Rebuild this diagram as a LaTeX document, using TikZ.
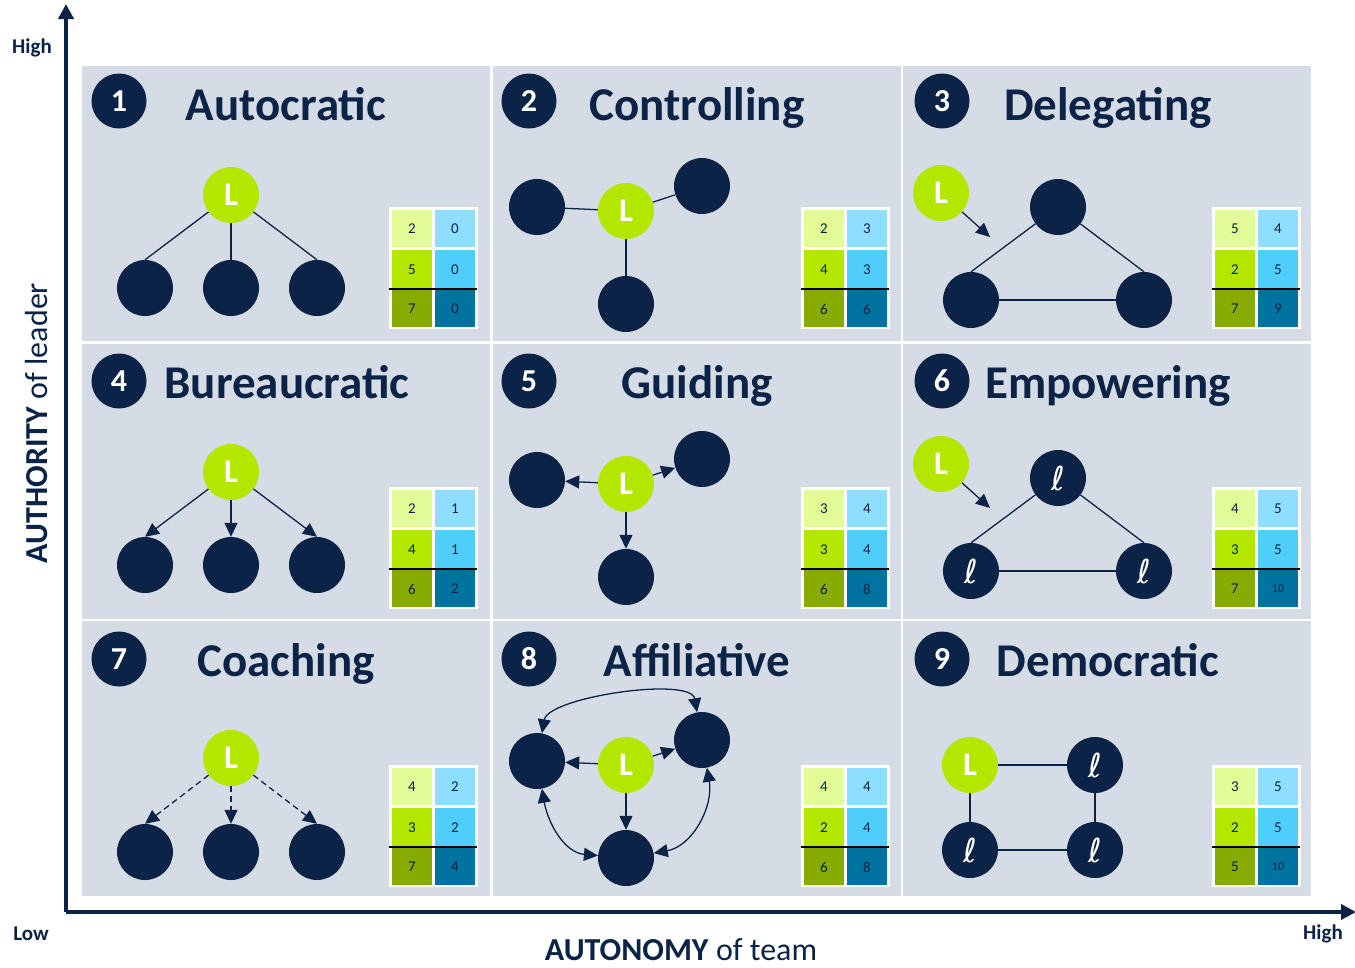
\documentclass[tikz,border=0pt]{standalone}
\usepackage{fontspec}
\setmainfont{Carlito}
\newfontfamily\ellfont{DejaVu Sans}
\usetikzlibrary{arrows.meta}

\definecolor{navy}{HTML}{0B2347}
\definecolor{panelgray}{HTML}{D6DCE5}
\definecolor{leadlime}{HTML}{B3E700}
\definecolor{palelime}{HTML}{E3FB96}
\definecolor{olive}{HTML}{87AB00}
\definecolor{paleblue}{HTML}{8EDEFF}
\definecolor{midblue}{HTML}{4FCDFB}
\definecolor{deepteal}{HTML}{0173A1}

\tikzset{
  panel/.style={fill=panelgray, draw=none},
  numdisc/.style={circle, fill=navy, minimum size=55pt, inner sep=0pt, text=white,
    font=\bfseries\fontsize{32}{32}\selectfont},
  title/.style={anchor=base, text=navy, font=\bfseries\fontsize{47}{50}\selectfont},
  leader/.style={circle, fill=leadlime, minimum size=56pt, inner sep=0pt, text=white,
    font=\bfseries\fontsize{33}{33}\selectfont},
  member/.style={circle, fill=navy, minimum size=56pt, inner sep=0pt, text=white,
    font=\ellfont\itshape\fontsize{33}{33}\selectfont},
  link/.style={draw=navy, line width=1.3pt},
  tip/.tip={Triangle[length=14pt,width=13pt]},
  dirlink/.style={link, -tip},
  duallink/.style={link, tip-tip},
  dashlink/.style={link, -tip, dash pattern=on 6pt off 4pt},
  axisline/.style={draw=navy, line width=4pt, -{Triangle[length=15pt,width=15pt]}},
  axislbl/.style={text=navy, font=\bfseries\fontsize{21}{21}\selectfont},
  axistitle/.style={text=navy, inner sep=0pt, font=\fontsize{32}{32}\selectfont},
  score/.style={text=navy, font=\fontsize{15}{15}\selectfont, inner sep=0pt},
}

% score table: #1 name prefix, #2/#3 top-left corner, #4..#9 values row by row
\newcommand\scoretable[9]{%
  \begin{scope}[shift={(#2,#3)}]
    \fill[white] (0,0) rectangle (89,122);
    \fill[palelime] (3,3) rectangle (43,40);
    \fill[paleblue] (46,3) rectangle (86,40);
    \fill[leadlime] (3,43) rectangle (43,82);
    \fill[midblue] (46,43) rectangle (86,82);
    \fill[olive] (3,82) rectangle (43,120);
    \fill[deepteal] (46,82) rectangle (86,120);
    \draw[black, line width=2.5pt] (0,82) -- (88,82);
    \node[score] (#1a) at (23,22) {#4};
    \node[score] (#1b) at (66,22) {#5};
    \node[score] (#1c) at (23,62.5) {#6};
    \node[score] (#1d) at (66,62.5) {#7};
    \node[score] (#1e) at (23,102) {#8};
    \node[score] (#1f) at (66,102) {#9};
  \end{scope}}
\newcommand\ten{{\fontsize{12}{12}\selectfont 10}}

\begin{document}
\begin{tikzpicture}[x=1pt, y=-1pt]
  \useasboundingbox (0,0) rectangle (1355,967);
  \fill[white] (0,0) rectangle (1355,967);

  % panels
  \foreach \cx in {82,492.5,903} {
    \foreach \cy in {66,343.5,621} {
      \fill[panel] (\cx,\cy) rectangle ++(408,275);
    }
  }

  % axes
  \coordinate (origin) at (66,912);
  \coordinate (ytop) at (66,4);
  \coordinate (xend) at (1356,912);
  \draw[axisline] (origin) -- (ytop);
  \draw[axisline] (origin) -- (xend);
  \node[axislbl] (yhigh) at (32,48) {High};
  \node[axislbl] (xlow) at (31,934) {Low};
  \node[axislbl] (xhigh) at (1323,934) {High};
  \node[axistitle, anchor=base] (xtitle) at (681,960) {\textbf{AUTONOMY} of team};
  \node[axistitle, rotate=90] (ytitle) at (37,423) {\textbf{AUTHORITY} of leader};

  % numbered headings
  \node[numdisc] (n1) at (119,101) {1};
  \node[numdisc] (n2) at (529,101) {2};
  \node[numdisc] (n3) at (942,101) {3};
  \node[numdisc] (n4) at (119,381) {4};
  \node[numdisc] (n5) at (529,381) {5};
  \node[numdisc] (n6) at (942,381) {6};
  \node[numdisc] (n7) at (119,659) {7};
  \node[numdisc] (n8) at (529,659) {8};
  \node[numdisc] (n9) at (942,659) {9};
  \node[title] (t1) at (286,120) {Autocratic};
  \node[title] (t2) at (697,120) {Controlling};
  \node[title] (t3) at (1108,120) {Delegating};
  \node[title] (t4) at (287,398) {Bureaucratic};
  \node[title] (t5) at (697,398) {Guiding};
  \node[title] (t6) at (1108,398) {Empowering};
  \node[title] (t7) at (286,676) {Coaching};
  \node[title] (t8) at (697,676) {Affiliative};
  \node[title] (t9) at (1108,676) {Democratic};

  % 1 Autocratic
  \node[leader] (l1) at (231,195) {L};
  \node[member] (m1a) at (145,288) {};
  \node[member] (m1b) at (231,288) {};
  \node[member] (m1c) at (317,288) {};
  \draw[link] (l1) -- (m1a.north);
  \draw[link] (l1) -- (m1b.north);
  \draw[link] (l1) -- (m1c.north);

  % 2 Controlling
  \node[leader] (l2) at (626,211) {L};
  \node[member] (m2a) at (537,207) {};
  \node[member] (m2b) at (702,186) {};
  \node[member] (m2c) at (626,304) {};
  \draw[link] (l2) -- (m2a);
  \draw[link] (l2) -- (m2b);
  \draw[link] (l2) -- (m2c);

  % 3 Delegating
  \node[leader] (l3) at (941,193) {L};
  \coordinate (p3) at (990,237);
  \node[member] (m3a) at (1058,207) {};
  \node[member] (m3b) at (971,300) {};
  \node[member] (m3c) at (1144,300) {};
  \draw[dirlink] (l3) -- (p3);
  \draw[link] (m3a) -- (m3b.north);
  \draw[link] (m3a) -- (m3c.north);
  \draw[link] (m3b) -- (m3c);

  % 4 Bureaucratic
  \node[leader] (l4) at (231,472) {L};
  \node[member] (m4a) at (145,565) {};
  \node[member] (m4b) at (231,565) {};
  \node[member] (m4c) at (317,565) {};
  \draw[dirlink] (l4) -- (m4a.north);
  \draw[dirlink] (l4) -- (m4b.north);
  \draw[dirlink] (l4) -- (m4c.north);

  % 5 Guiding
  \node[leader] (l5) at (626,484) {L};
  \node[member] (m5a) at (537,480) {};
  \node[member] (m5b) at (702,459) {};
  \node[member] (m5c) at (626,577) {};
  \draw[dirlink] (l5) -- (m5a);
  \draw[dirlink] (l5) -- (m5b);
  \draw[dirlink] (l5) -- (m5c);

  % 6 Empowering
  \node[leader] (l6) at (941,464) {L};
  \coordinate (p6) at (990,508);
  \node[member] (m6a) at (1058,478) {ℓ};
  \node[member] (m6b) at (971,571) {ℓ};
  \node[member] (m6c) at (1144,571) {ℓ};
  \draw[dirlink] (l6) -- (p6);
  \draw[link] (m6a) -- (m6b.north);
  \draw[link] (m6a) -- (m6c.north);
  \draw[link] (m6b) -- (m6c);

  % 7 Coaching
  \node[leader] (l7) at (231,758) {L};
  \node[member] (m7a) at (145,852) {};
  \node[member] (m7b) at (231,852) {};
  \node[member] (m7c) at (317,852) {};
  \draw[dashlink] (l7) -- (m7a.north);
  \draw[dashlink] (l7) -- (m7b.north);
  \draw[dashlink] (l7) -- (m7c.north);

  % 8 Affiliative
  \node[leader] (l8) at (626,765) {L};
  \node[member] (m8a) at (537,761) {};
  \node[member] (m8b) at (702,740) {};
  \node[member] (m8c) at (626,858) {};
  \draw[dirlink] (l8) -- (m8a);
  \draw[dirlink] (l8) -- (m8b);
  \draw[dirlink] (l8) -- (m8c);
  \draw[duallink] (m8a) to[out=80, in=100, looseness=0.6] (m8b);
  \draw[duallink] (m8a) to[out=-80, in=175] (m8c);
  \draw[duallink] (m8b) to[out=-80, in=10] (m8c);

  % 9 Democratic
  \node[leader] (l9) at (970,765) {L};
  \node[member] (m9a) at (1095,765) {ℓ};
  \node[member] (m9b) at (970,850) {ℓ};
  \node[member] (m9c) at (1095,850) {ℓ};
  \draw[link] (l9) -- (m9a);
  \draw[link] (l9) -- (m9b);
  \draw[link] (m9a) -- (m9c);
  \draw[link] (m9b) -- (m9c);

  % score tables
  \scoretable{s1}{389}{207}{2}{0}{5}{0}{7}{0}
  \scoretable{s2}{801}{207}{2}{3}{4}{3}{6}{6}
  \scoretable{s3}{1212}{207}{5}{4}{2}{5}{7}{9}
  \scoretable{s4}{389}{487}{2}{1}{4}{1}{6}{2}
  \scoretable{s5}{801}{487}{3}{4}{3}{4}{6}{8}
  \scoretable{s6}{1212}{487}{4}{5}{3}{5}{7}{\ten}
  \scoretable{s7}{389}{765}{4}{2}{3}{2}{7}{4}
  \scoretable{s8}{801}{765}{4}{4}{2}{4}{6}{8}
  \scoretable{s9}{1212}{765}{3}{5}{2}{5}{5}{\ten}
\end{tikzpicture}
\end{document}
